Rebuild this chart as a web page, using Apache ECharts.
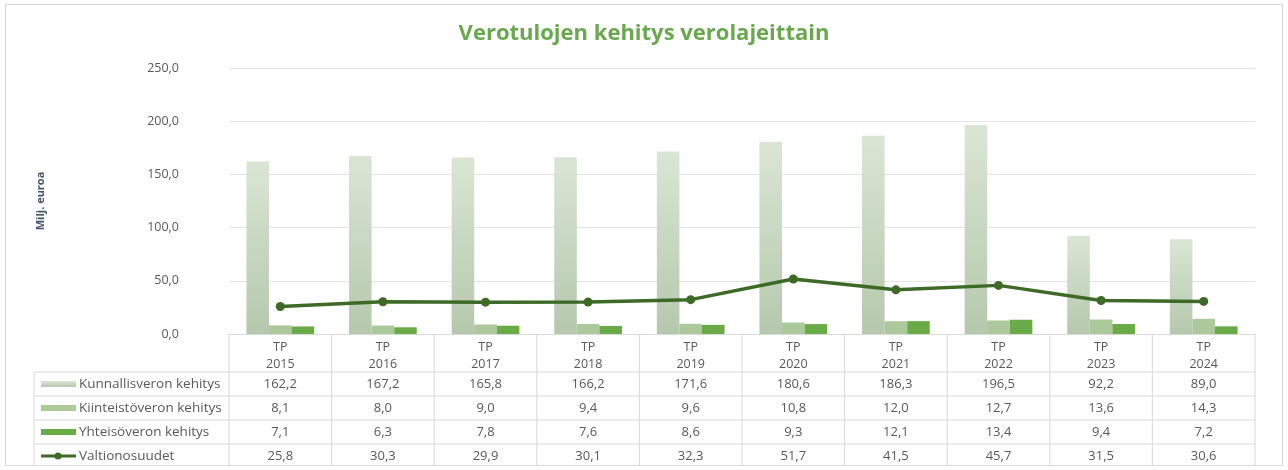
<!DOCTYPE html>
<html>
<head>
<meta charset="utf-8">
<script src="https://cdn.jsdelivr.net/npm/echarts@6/dist/echarts.min.js"></script>
<style>
  html, body { margin: 0; padding: 0; background: #fff; }
  #chart { position: absolute; left: 5px; top: 4px; width: 1278px; height: 462px; border: 1px solid #d9d9d9; box-sizing: border-box; }
</style>
</head>
<body>
<div id="chart"></div>
<script>
var years = ['2015', '2016', '2017', '2018', '2019', '2020', '2021', '2022', '2023', '2024'];
var kunnallis = [162.2, 167.2, 165.8, 166.2, 171.6, 180.6, 186.3, 196.5, 92.2, 89.0];
var kiinteisto = [8.1, 8.0, 9.0, 9.4, 9.6, 10.8, 12.0, 12.7, 13.6, 14.3];
var yhteiso = [7.1, 6.3, 7.8, 7.6, 8.6, 9.3, 12.1, 13.4, 9.4, 7.2];
var valtionosuudet = [25.8, 30.3, 29.9, 30.1, 32.3, 51.7, 41.5, 45.7, 31.5, 30.6];
var seriesNames = ['Kunnallisveron kehitys', 'Kiinteistöveron kehitys', 'Yhteisöveron kehitys', 'Valtionosuudet'];

var fmt = function (v) { return v.toFixed(1).replace('.', ','); };
var textColor = '#595959';
var lineColor = '#d9d9d9';
var colLight = new echarts.graphic.LinearGradient(0, 0, 0, 1, [
  { offset: 0, color: '#dae6d4' }, { offset: 1, color: '#b5c8ad' }
]);
var colMid = '#acc99c';
var colDark = '#6aab47';
var colLine = '#3d6b27';

var chart = echarts.init(document.getElementById('chart'));
var grid = { left: 223, right: 27, top: 63, bottom: 131 };

chart.setOption({
  animation: false,
  textStyle: { fontFamily: 'Open Sans' },
  title: {
    text: 'Verotulojen kehitys verolajeittain',
    left: 'center', top: 13,
    textStyle: { color: '#6aa84f', fontSize: 22, fontWeight: 'bold' }
  },
  grid: grid,
  xAxis: {
    type: 'category',
    data: years.map(function (y) { return 'TP\n' + y; }),
    axisLine: { lineStyle: { color: lineColor } },
    axisTick: { show: false },
    axisLabel: { color: textColor, fontSize: 12.5, lineHeight: 17, margin: 5 }
  },
  yAxis: {
    type: 'value', min: 0, max: 250, interval: 50,
    name: 'Milj. euroa', nameLocation: 'middle', nameGap: 183,
    nameTextStyle: { color: '#44546a', fontSize: 11, fontWeight: 'bold' },
    axisLabel: { color: textColor, fontSize: 12.5, margin: 50, formatter: fmt },
    splitLine: { lineStyle: { color: '#e3e3e3' } }
  },
  series: [
    { name: seriesNames[0], type: 'bar', data: kunnallis, barGap: '0%', barCategoryGap: '34%',
      itemStyle: { color: colLight } },
    { name: seriesNames[1], type: 'bar', data: kiinteisto, itemStyle: { color: colMid } },
    { name: seriesNames[2], type: 'bar', data: yhteiso, itemStyle: { color: colDark } },
    { name: seriesNames[3], type: 'line', data: valtionosuudet, symbol: 'circle', symbolSize: 9,
      lineStyle: { color: colLine, width: 3.5 }, itemStyle: { color: colLine } }
  ]
});

// data table below the axis
var rows = [kunnallis, kiinteisto, yhteiso, valtionosuudet];
var plotL = grid.left, plotR = chart.getWidth() - grid.right;
var axisY = chart.getHeight() - grid.bottom;
var headH = 38, rowH = 24, tableL = 28;
var rowTop = axisY + headH;
var tableB = rowTop + rowH * rows.length;
var centers = years.map(function (y, i) { return chart.convertToPixel({ xAxisIndex: 0 }, i); });
var step = (plotR - plotL) / years.length;
var els = [];
var ls = { stroke: lineColor, lineWidth: 1 };

for (var r = 0; r <= rows.length; r++) {
  var y = rowTop + r * rowH;
  els.push({ type: 'line', shape: { x1: tableL, y1: y, x2: plotR, y2: y }, style: ls });
}
els.push({ type: 'line', shape: { x1: tableL, y1: rowTop, x2: tableL, y2: tableB }, style: ls });
for (var c = 0; c <= years.length; c++) {
  var x = plotL + c * step;
  els.push({ type: 'line', shape: { x1: x, y1: axisY, x2: x, y2: tableB }, style: ls });
}
rows.forEach(function (vals, r) {
  var cy = rowTop + r * rowH + rowH / 2;
  if (r < 3) {
    els.push({ type: 'rect', shape: { x: tableL + 7, y: cy - 3, width: 35, height: 6 },
      style: { fill: [colLight, colMid, colDark][r] } });
  } else {
    els.push({ type: 'line', shape: { x1: tableL + 7, y1: cy, x2: tableL + 42, y2: cy },
      style: { stroke: colLine, lineWidth: 3 } });
    els.push({ type: 'circle', shape: { cx: tableL + 24, cy: cy, r: 3.5 }, style: { fill: colLine } });
  }
  els.push({ type: 'text', x: tableL + 45, y: cy,
    style: { text: seriesNames[r], fill: textColor, font: '13.5px "Open Sans"', verticalAlign: 'middle' } });
  vals.forEach(function (v, i) {
    els.push({ type: 'text', x: centers[i], y: cy,
      style: { text: fmt(v), fill: textColor, font: '13px "Open Sans"', align: 'center', verticalAlign: 'middle' } });
  });
});
chart.setOption({ graphic: els });
</script>
</body>
</html>
